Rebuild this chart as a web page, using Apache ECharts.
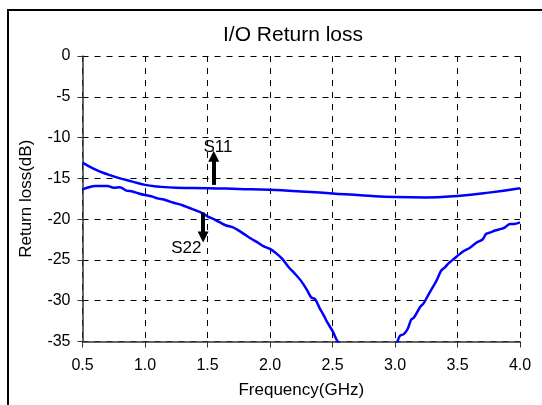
<!DOCTYPE html>
<html>
<head>
<meta charset="utf-8">
<script src="https://cdn.jsdelivr.net/npm/echarts@6/dist/echarts.min.js"></script>
<style>
  html, body { margin: 0; padding: 0; background: #fff; }
  #chart { width: 542px; height: 405px; }
</style>
</head>
<body>
<div id="chart"></div>
<script>
// S11 / S22 (GHz, dB)
var s11Freq = [0.5, 0.6, 0.7, 0.8, 0.9, 1.0, 1.1, 1.25, 1.5, 1.75, 2.0, 2.25, 2.5, 2.75, 3.0, 3.25, 3.5, 3.75, 4.0];
var s11Loss = [-13.07, -13.9, -14.5, -15.0, -15.4, -15.8, -16.0, -16.15, -16.2, -16.3, -16.4, -16.6, -16.85, -17.1, -17.3, -17.35, -17.15, -16.75, -16.2];

var s22Freq = [0.5, 0.55, 0.6, 0.65, 0.7, 0.75, 0.8, 0.85, 0.9, 0.95, 1.0, 1.05, 1.1, 1.15, 1.2, 1.25, 1.3, 1.35, 1.4, 1.45,
  1.5, 1.55, 1.6, 1.65, 1.7, 1.75, 1.8, 1.85, 1.9, 1.95, 2.0, 2.05, 2.1, 2.15, 2.2, 2.25, 2.3, 2.33, 2.36, 2.4,
  2.43, 2.46, 2.5, 2.53, 2.56, 2.6, 2.7, 2.8, 2.9, 3.0, 3.02, 3.04, 3.07, 3.1, 3.13, 3.15, 3.2, 3.23, 3.27, 3.3,
  3.33, 3.37, 3.4, 3.43, 3.5, 3.55, 3.6, 3.65, 3.7, 3.73, 3.77, 3.8, 3.85, 3.88, 3.92, 3.95, 4.0];
var s22Loss = [-16.35, -16.1, -15.94, -15.95, -15.95, -16.15, -16.1, -16.5, -16.6, -16.85, -17.05, -17.2, -17.45, -17.6, -17.85, -18.07, -18.3, -18.6, -18.9, -19.2,
  -19.65, -20.0, -20.4, -20.78, -20.98, -21.4, -21.9, -22.4, -22.85, -23.35, -23.65, -24.2, -24.9, -25.9, -26.7, -27.6, -28.8, -29.6, -29.8, -31.0,
  -31.8, -32.7, -33.7, -34.7, -35.5, -37, -40, -42, -40, -36.5, -35, -34.3, -34.1, -33.5, -32.3, -32.1, -30.8, -30.3, -29.2, -28.4,
  -27.6, -26.3, -25.9, -25.4, -24.5, -23.9, -23.5, -22.9, -22.5, -21.8, -21.6, -21.4, -21.2, -21.0, -20.6, -20.6, -20.4];

// annotations: arrow [x, yFrom, yTo] and label [x, y]
var s11Arrow = [1.55, -15.8, -12.3];
var s22Arrow = [1.465, -19.2, -22.2];
var s11Label = [1.583, -11.2];
var s22Label = [1.33, -23.6];

function zip(xs, ys) {
  return xs.map(function (x, i) { return [x, ys[i]]; });
}

var font = 'Liberation Sans, Arial, sans-serif';
var chart = echarts.init(document.getElementById('chart'));

var dashed = { show: true, lineStyle: { color: '#000', type: [6, 6], width: 1 } };

var option = {
  animation: false,
  backgroundColor: '#fff',
  title: {
    text: 'I/O Return loss',
    left: 288,
    top: 20,
    textAlign: 'center',
    textStyle: { fontFamily: font, fontSize: 21, fontWeight: 'normal', color: '#000' }
  },
  grid: { left: 82.5, right: 22, top: 56, bottom: 63.5 },
  xAxis: {
    type: 'value',
    min: 0.5,
    max: 4,
    interval: 0.5,
    name: 'Frequency(GHz)',
    nameLocation: 'middle',
    nameGap: 40,
    nameTextStyle: { fontFamily: font, fontSize: 17, color: '#000' },
    axisLine: { onZero: false, lineStyle: { color: '#333', width: 1.5 } },
    axisTick: { show: true, length: 6, lineStyle: { color: '#333', width: 1 } },
    axisLabel: {
      fontFamily: font, fontSize: 16, color: '#000', margin: 16,
      formatter: function (v) { return v.toFixed(1); }
    },
    splitLine: dashed
  },
  yAxis: {
    type: 'value',
    min: -35,
    max: 0,
    interval: 5,
    name: 'Return loss(dB)',
    nameLocation: 'middle',
    nameGap: 48,
    nameTextStyle: { fontFamily: font, fontSize: 17, color: '#000' },
    axisLine: { show: true, onZero: false, lineStyle: { color: '#333', width: 1.5 } },
    axisTick: { show: true, length: 5, lineStyle: { color: '#333', width: 1 } },
    axisLabel: { fontFamily: font, fontSize: 16, color: '#000', margin: 12 },
    splitLine: dashed
  },
  graphic: [
    {
      type: 'polyline',
      shape: { points: [[8, 405], [8, 10], [542, 10]] },
      style: { stroke: '#000', lineWidth: 2, fill: null },
      silent: true
    }
  ],
  series: [
    {
      name: 'S11',
      type: 'line',
      data: zip(s11Freq, s11Loss),
      smooth: true,
      showSymbol: false,
      clip: true,
      lineStyle: { color: '#0000ff', width: 2.5 },
      markLine: {
        silent: true,
        symbol: ['none', 'triangle'],
        symbolSize: 11,
        symbolOffset: [0, 0],
        label: { show: false },
        itemStyle: { color: '#000' },
        lineStyle: { color: '#000', type: 'solid', width: 4 },
        data: [
          [{ coord: [s11Arrow[0], s11Arrow[1]] }, { coord: [s11Arrow[0], s11Arrow[2]] }],
          [{ coord: [s22Arrow[0], s22Arrow[1]] }, { coord: [s22Arrow[0], s22Arrow[2]] }]
        ]
      },
      markPoint: {
        silent: true,
        symbol: 'circle',
        symbolSize: 0,
        label: { show: true, position: 'inside', fontFamily: font, fontSize: 17, color: '#000' },
        data: [
          { coord: s11Label, label: { formatter: 'S11' } },
          { coord: s22Label, label: { formatter: 'S22' } }
        ]
      }
    },
    {
      name: 'S22',
      type: 'line',
      data: zip(s22Freq, s22Loss),
      smooth: 0.3,
      showSymbol: false,
      clip: true,
      lineStyle: { color: '#0000ff', width: 2.5 }
    }
  ]
};

chart.setOption(option);
</script>
</body>
</html>
